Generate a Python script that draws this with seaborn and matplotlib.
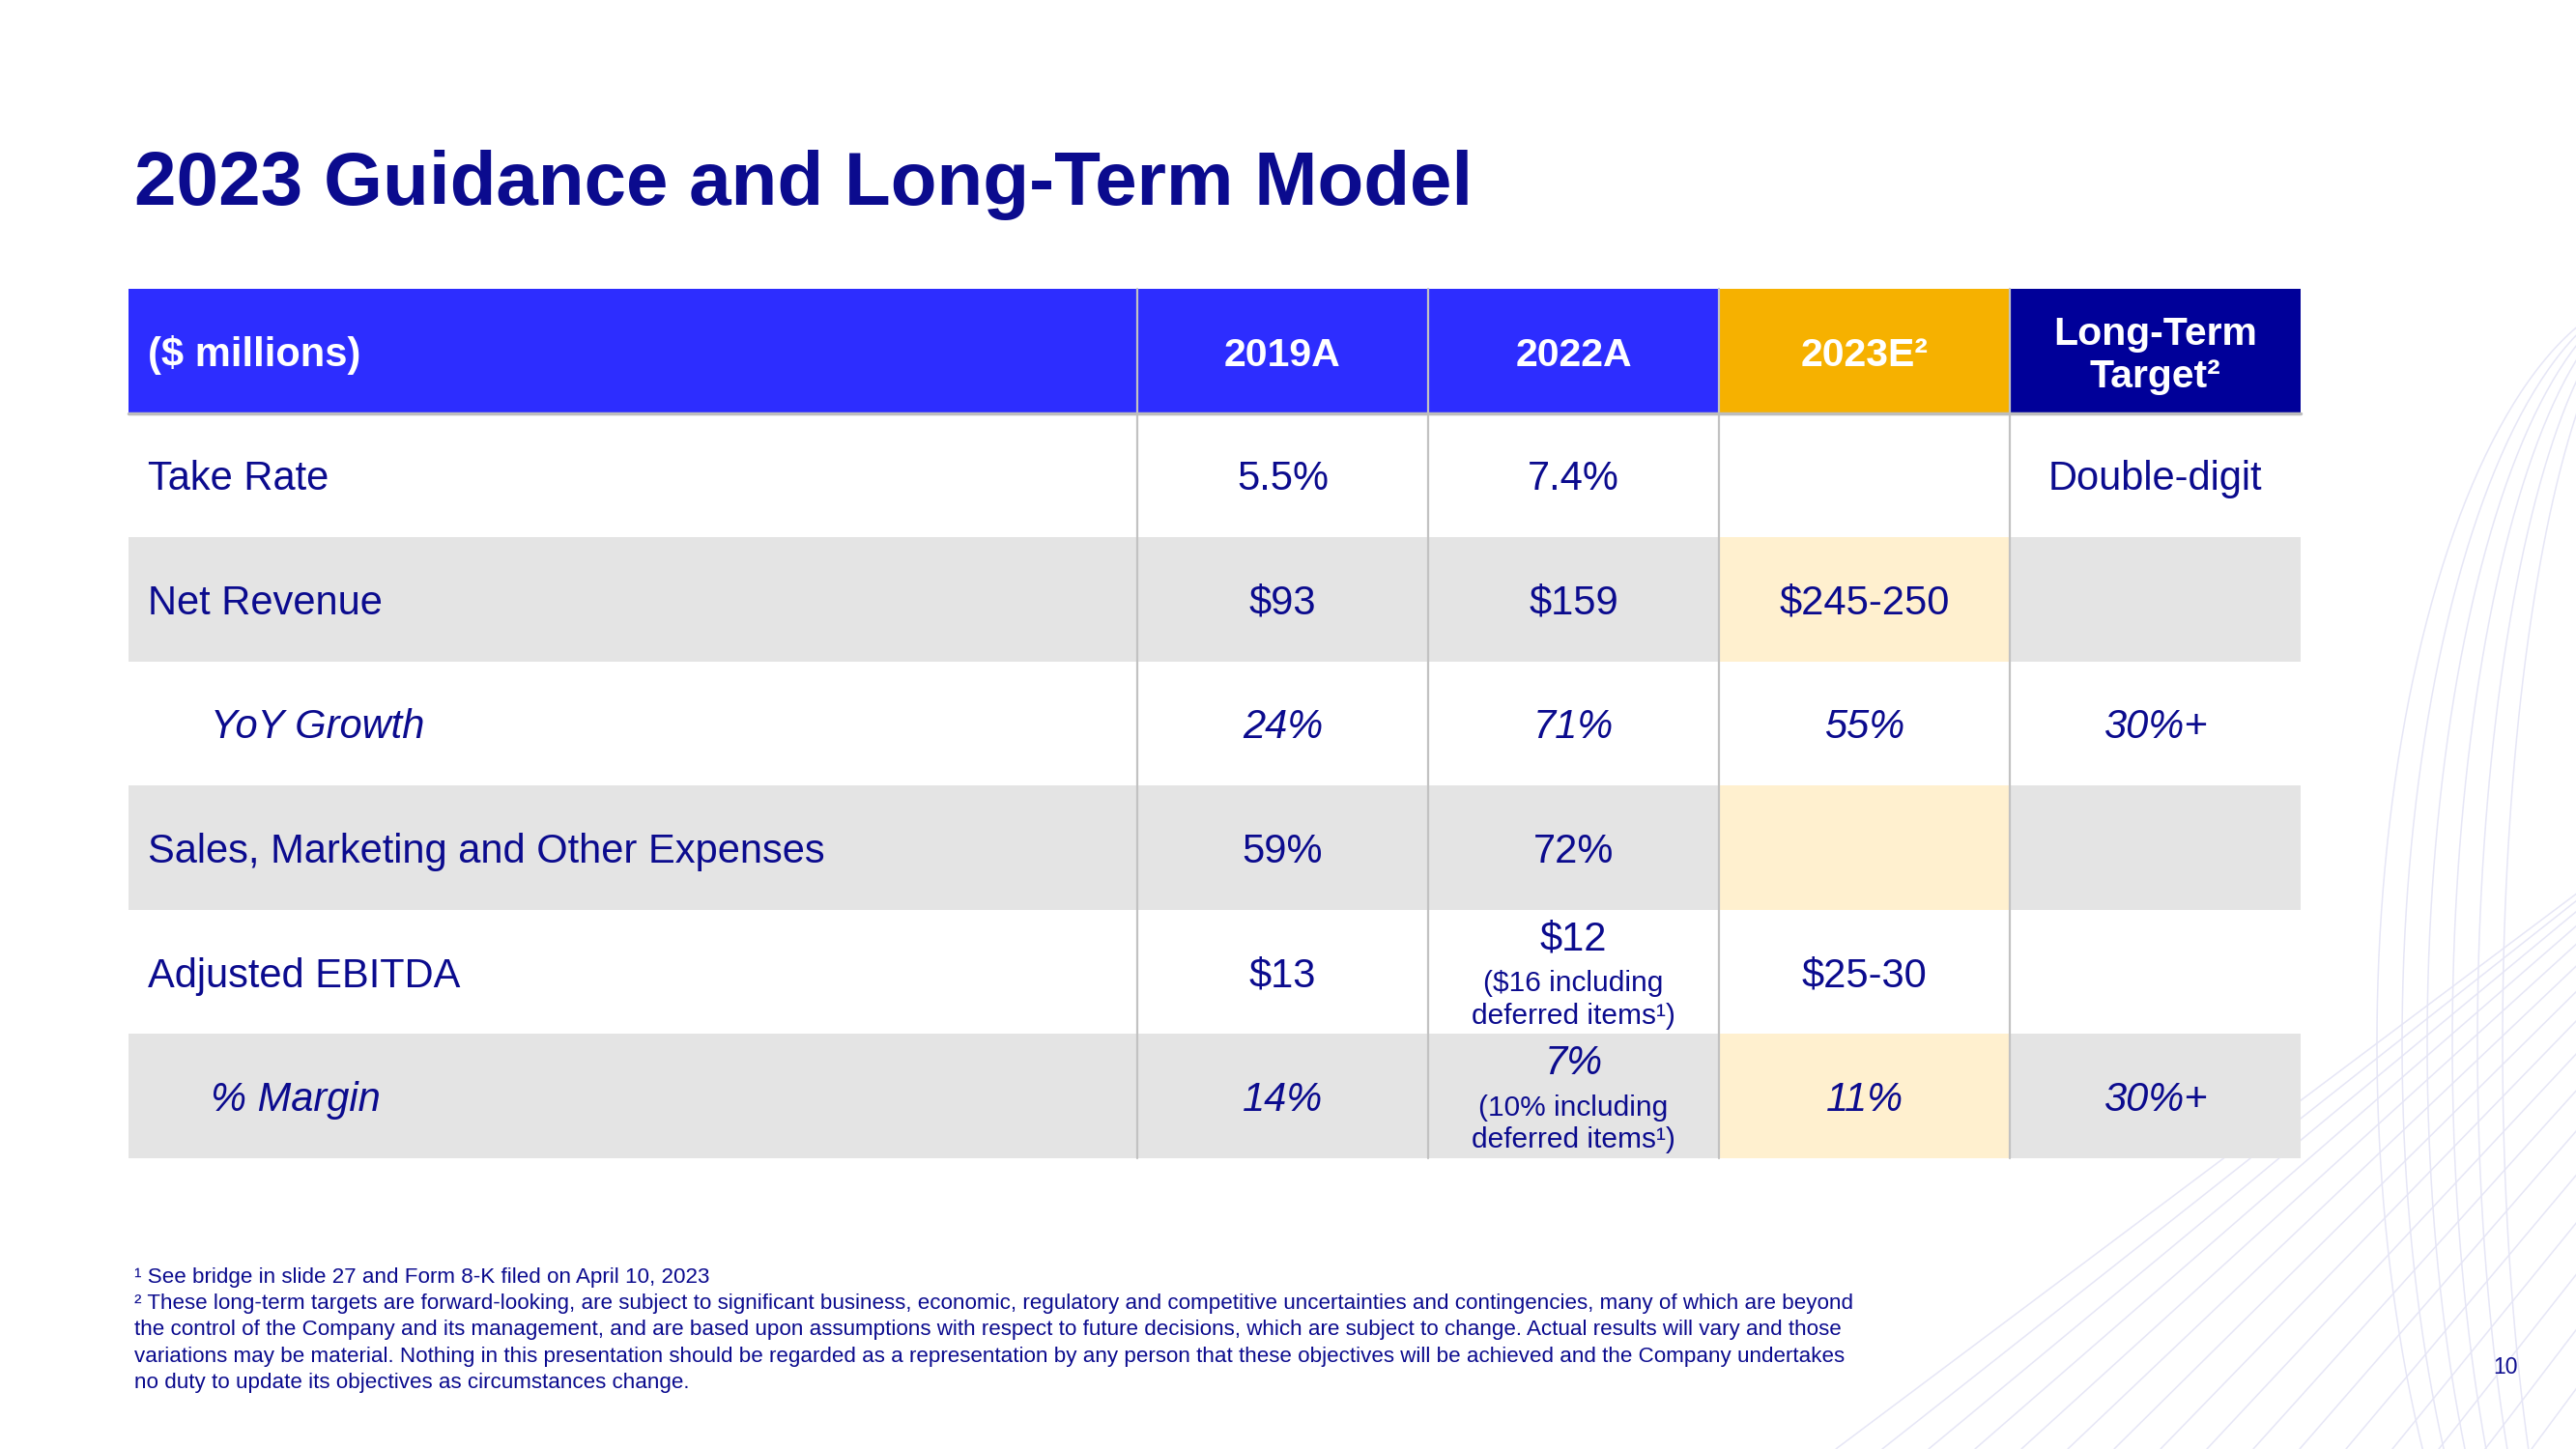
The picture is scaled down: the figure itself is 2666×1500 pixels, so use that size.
import numpy as np
import pandas as pd
import seaborn as sns
import matplotlib.pyplot as plt
from matplotlib.colors import ListedColormap

sns.set_style('white')
plt.rcParams['font.family'] = ['Liberation Sans', 'DejaVu Sans']

# table content
row_labels = ['Take Rate', 'Net Revenue', 'YoY Growth',
              'Sales, Marketing and Other Expenses', 'Adjusted EBITDA', '% Margin']
indented = [False, False, True, False, False, True]
col_labels = ['2019A', '2022A', '2023E²', 'Long-Term\nTarget²']
values_2019 = ['5.5%', '$93', '24%', '59%', '$13', '14%']
values_2022 = ['7.4%', '$159', '71%', '72%', '$12', '7%']
notes_2022 = ['', '', '', '', '($16 including\ndeferred items¹)', '(10% including\ndeferred items¹)']
values_2023 = ['', '$245-250', '55%', '', '$25-30', '11%']
values_lt = ['Double-digit', '', '30%+', '', '', '30%+']

footnotes = [
    '¹ See bridge in slide 27 and Form 8-K filed on April 10, 2023',
    '² These long-term targets are forward-looking, are subject to significant business, economic, regulatory and competitive uncertainties and contingencies, many of which are beyond',
    'the control of the Company and its management, and are based upon assumptions with respect to future decisions, which are subject to change. Actual results will vary and those',
    'variations may be material. Nothing in this presentation should be regarded as a representation by any person that these objectives will be achieved and the Company undertakes',
    'no duty to update its objectives as circumstances change.',
]

NAVY = '#0b0b8e'
palette = ['#ffffff', '#e4e4e4', '#fff0cf', '#2d2dff', '#f6b100', '#000099']
cmap = ListedColormap(palette)

# fill codes: header colour per column, stripes on rows, highlight for 2023E
n = len(row_labels)
stripe = np.array([i % 2 for i in range(n)])
label_codes = np.concatenate([[3], stripe]).reshape(-1, 1)
val_codes = np.zeros((n + 1, 4), dtype=int)
val_codes[0] = [3, 3, 4, 5]
for j in range(4):
    val_codes[1:, j] = stripe * (2 if j == 2 else 1)

W, H = 2666, 1500
fig = plt.figure(figsize=(W / 100, H / 100), dpi=100)

# faint background decoration
ax_bg = fig.add_axes([0, 0, 1, 1], zorder=-5)
ax_bg.set_xlim(0, W)
ax_bg.set_ylim(H, 0)
ax_bg.axis('off')
deco = '#e6e6f6'
for k in range(18):
    x0 = 1900 + k * 48
    ax_bg.plot([x0, x0 + 900], [H, H - 900 * (0.75 + 0.04 * k)], color=deco, lw=1.1)
theta = np.linspace(np.pi * 0.55, np.pi * 1.5, 200)
for rx in np.linspace(170, 300, 6):
    ax_bg.plot(2760 + rx * np.cos(theta), 1080 + 780 * np.sin(theta), color=deco, lw=1.1)

ax_lab = fig.add_axes([133 / W, 1 - 1199 / H, 1044 / W, 900 / H])
ax_val = fig.add_axes([1177 / W, 1 - 1199 / H, 1204 / W, 900 / H])

sns.heatmap(pd.DataFrame(label_codes), ax=ax_lab, cmap=cmap, vmin=-0.5, vmax=5.5,
            cbar=False, xticklabels=False, yticklabels=False)
sns.heatmap(pd.DataFrame(val_codes, columns=col_labels), ax=ax_val, cmap=cmap,
            vmin=-0.5, vmax=5.5, cbar=False, xticklabels=False, yticklabels=False)

dy = 0.035  # nudge text a bit below the geometric centre

# header
ax_lab.text(20 / 1044, 0.5 + dy, '($ millions)', color='white', fontsize=30,
            fontweight='bold', ha='left', va='center')
for j, lab in enumerate(col_labels):
    ax_val.text(j + 0.5, 0.5 + dy, lab, color='white', fontsize=29.5, fontweight='bold',
                ha='center', va='center', linespacing=1.2)

# rows
for i, lab in enumerate(row_labels):
    y = i + 1.5 + dy
    style = 'italic' if indented[i] else 'normal'
    x = (85 if indented[i] else 20) / 1044
    ax_lab.text(x, y, lab, color=NAVY, fontsize=30, style=style, ha='left', va='center')
    for j, col in enumerate([values_2019, values_2022, values_2023, values_lt]):
        if not col[i]:
            continue
        yy = y
        if j == 1 and notes_2022[i]:
            yy = y - 0.3
            ax_val.text(j + 0.5, y + 0.19, notes_2022[i], color=NAVY, fontsize=21.5,
                        ha='center', va='center', linespacing=1.25)
        ax_val.text(j + 0.5, yy, col[i], color=NAVY, fontsize=30, style=style,
                    ha='center', va='center')

# grid lines
for x in range(4):
    ax_val.axvline(x, color='#c2c2c2', lw=1.6, clip_on=False)
for ax in (ax_lab, ax_val):
    ax.axhline(1, color='#bdbdbd', lw=2.5, clip_on=False)

fig.text(139 / W, 1 - 212 / H, '2023 Guidance and Long-Term Model', color=NAVY,
         fontsize=56.3, fontweight='bold', ha='left', va='baseline')

for k, line in enumerate(footnotes):
    fig.text(139 / W, 1 - (1328 + 27.2 * k) / H, line, color=NAVY, fontsize=16.1,
             ha='left', va='baseline')

fig.text(2593 / W, 1 - 1416 / H, '10', color=NAVY, fontsize=16.5, ha='center', va='center')

fig.savefig('out.png', dpi=100)
